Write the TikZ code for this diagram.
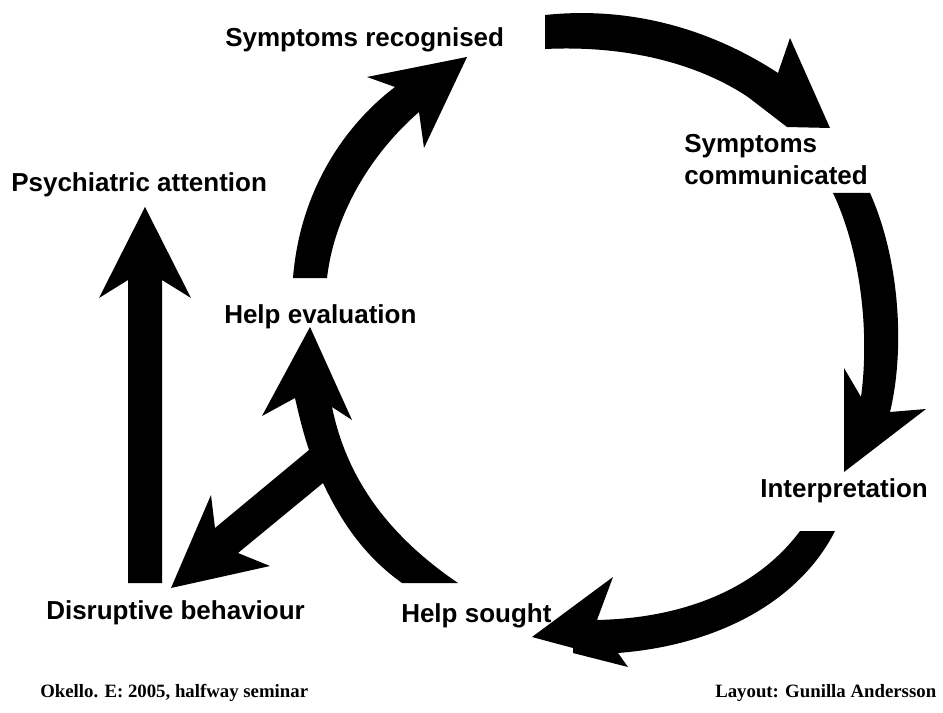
\documentclass[tikz,border=0pt]{standalone}
\usepackage{fontspec}
\setmainfont{Liberation Sans}
\newfontfamily\footfont{Liberation Serif}
\begin{document}
\begin{tikzpicture}[x=0.75pt,y=-0.75pt,
  lbl/.style={anchor=base west,inner sep=0pt,font=\fontsize{19.5pt}{23pt}\selectfont\bfseries},
  foot/.style={anchor=base west,inner sep=0pt,font=\footfont\fontsize{14.1pt}{16pt}\selectfont\bfseries},
  blk/.style={fill=black,draw=none}]
\useasboundingbox[fill=white] (0,0) rectangle (943,713);

% labels
\node[lbl] (recog) at (225,47) {Symptoms recognised};
\node[lbl] (comm1) at (684,153) {Symptoms};
\node[lbl] (comm2) at (684,185) {communicated};
\node[lbl] (psych) at (11,192) {Psychiatric attention};
\node[lbl] (heval) at (224,323) {Help evaluation};
\node[lbl] (interp) at (760,497) {Interpretation};
\node[lbl] (disr) at (46,619) {Disruptive behaviour};
\node[lbl] (hsought) at (401,622) {Help sought};
\node[foot] (cite) at (40,697) {Okello. E: 2005, halfway seminar};
\node[foot] (layout) at (715,697) {Layout: Gunilla Andersson};

% Help evaluation -> Symptoms recognised
\fill[blk] (293,278) .. controls (300,190) and (345,125) .. (395,87)
  -- (367,77) -- (467,57) -- (424,148) -- (419,112)
  .. controls (375,150) and (335,210) .. (327,278) -- cycle;

% Symptoms recognised -> Symptoms communicated
\fill[blk] (545,15) .. controls (640,5) and (720,35) .. (778,73)
  -- (790,38) -- (830,128) -- (787,127) -- (748,97)
  .. controls (700,65) and (630,45) .. (545,49) -- cycle;

% Symptoms communicated -> Interpretation
\fill[blk] (833,193) -- (870,193)
  .. controls (900,260) and (905,350) .. (890,412)
  -- (926,409) -- (844,472) -- (844,368) -- (861,397)
  .. controls (870,330) and (860,250) .. (833,193) -- cycle;

% Interpretation -> Help sought
\fill[blk] (800,531) -- (835,531)
  .. controls (800,600) and (720,645) .. (618,653)
  -- (628,667) -- (573,653) -- (573,648) -- (532,637) -- (613,577) -- (597,620)
  .. controls (690,618) and (760,585) .. (800,531) -- cycle;

% Help sought -> Help evaluation, with branch to Disruptive behaviour
\fill[blk] (402,583) -- (458,583)
  .. controls (380,530) and (345,470) .. (332,407)
  -- (352,420) -- (310,327) -- (262,416) -- (295,398)
  .. controls (300,420) and (304,435) .. (309,450)
  -- (215,528) -- (211,495) -- (171,588) -- (270,566) -- (238,553)
  -- (323,483)
  .. controls (345,530) and (370,560) .. (402,583) -- cycle;

% Disruptive behaviour -> Psychiatric attention
\fill[blk] (128,583) -- (128,280) -- (99,298) -- (145,207) -- (191,298)
  -- (162,280) -- (162,583) -- cycle;
\end{tikzpicture}
\end{document}
